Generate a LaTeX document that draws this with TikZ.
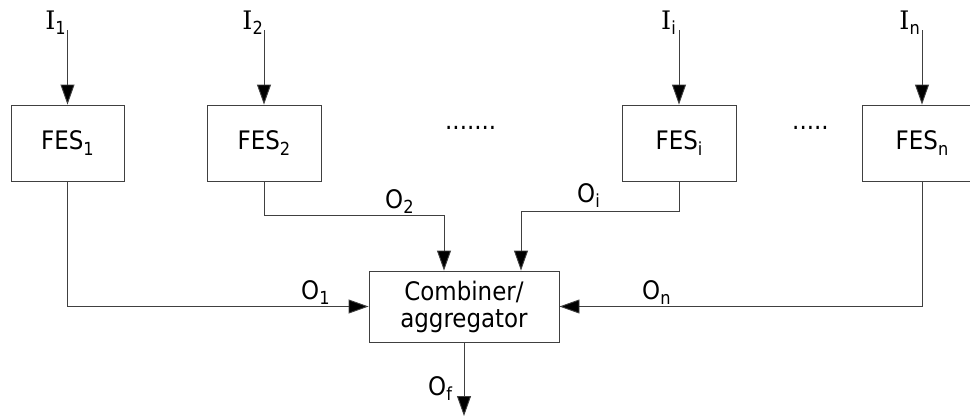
\documentclass[tikz,border=0pt]{standalone}
\usepackage{fontspec}
\setmainfont{DejaVu Sans Condensed}
\newfontfamily\serifI{DejaVu Serif}
\usetikzlibrary{arrows.meta}
\newcommand{\sbs}[1]{\raisebox{-0.22em}{\fontsize{18}{18}\selectfont #1}}
\tikzset{
  fes/.style={draw=black!75, line width=0.9pt, fill=white, inner sep=0pt, minimum height=76pt},
  arr/.style={draw=black!75, line width=0.9pt, -{Triangle[length=20pt,width=14pt,fill=black]}},
  lbl/.style={inner sep=0pt},
}
\begin{document}
\begin{tikzpicture}[x=1pt,y=-1pt, every node/.style={font=\fontsize{25.5}{30}\selectfont}]
\useasboundingbox (0,0) rectangle (970,416);
% FES boxes
\node[fes, minimum width=113pt] (f1) at (67.5,143) {FES\sbs{1}};
\node[fes, minimum width=114pt] (f2) at (264,143) {FES\sbs{2}};
\node[fes, minimum width=114pt] (fi) at (679,143) {FES\sbs{i}};
\node[fes, minimum width=120pt] (fn) at (922,143) {FES\sbs{n}};
\node[fes, minimum width=190pt, minimum height=71pt, align=center] (c) at (464,306.5) {Combiner/\\[-3pt]aggregator};
% input coordinates
\coordinate (i1) at (67.5,30);
\coordinate (i2) at (264,30);
\coordinate (ii) at (679,30);
\coordinate (in) at (922,30);
\draw[arr] (i1) -- (f1.north);
\draw[arr] (i2) -- (f2.north);
\draw[arr] (ii) -- (fi.north);
\draw[arr] (in) -- (fn.north);
% input labels
\node[lbl, anchor=base east] (l1) at (66,29) {{\serifI I}\sbs{1}};
\node[lbl, anchor=base east] (l2) at (263,29) {{\serifI I}\sbs{2}};
\node[lbl, anchor=base east] (li) at (676,29) {{\serifI I}\sbs{i}};
\node[lbl, anchor=base east] (ln) at (920,29) {{\serifI I}\sbs{n}};
% outputs
\coordinate (c2) at (444,215);
\coordinate (ci) at (521,211);
\coordinate (of) at (464,416);
\draw[arr] (f1.south) |- (c.west);
\draw[arr] (f2.south) |- (c2) -- (c2 |- c.north);
\draw[arr] (fi.south) |- (ci) -- (ci |- c.north);
\draw[arr] (fn.south) |- (c.east);
\draw[arr] (c.south) -- (of);
% output labels
\node[lbl, anchor=base west] (o1) at (301,299) {O\sbs{1}};
\node[lbl, anchor=base west] (on) at (642,299) {O\sbs{n}};
\node[lbl, anchor=base west] (o2) at (385,208) {O\sbs{2}};
\node[lbl, anchor=base west] (oi) at (577,202) {O\sbs{i}};
\node[lbl, anchor=base west] (ofl) at (428,395) {O\sbs{f}};
% dots
\node[lbl, anchor=base west] (d1) at (445,129) {.......};
\node[lbl, anchor=base west] (d2) at (792,129) {.....};
\end{tikzpicture}
\end{document}
